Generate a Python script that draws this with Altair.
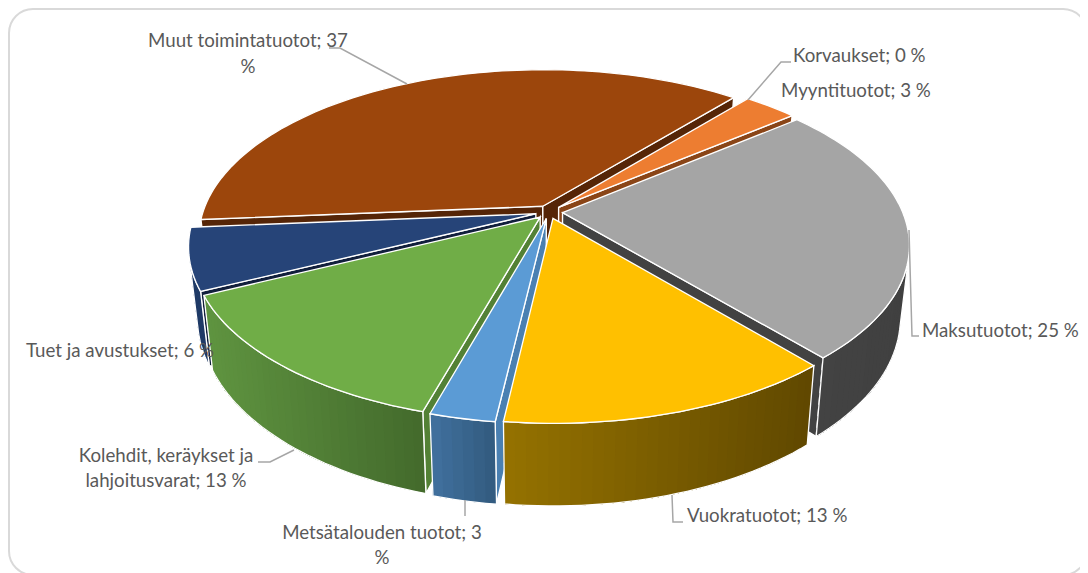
import math
import altair as alt
import pandas as pd

# ---- data ----
categories = ["Korvaukset", "Myyntituotot", "Maksutuotot", "Vuokratuotot",
              "Metsätalouden tuotot", "Kolehdit, keräykset ja lahjoitusvarat",
              "Tuet ja avustukset", "Muut toimintatuotot"]
shares = [0, 3, 24.6, 13.2, 2.55, 13.4, 5.85, 37.4]

# ---- styles ----
top_colors = ["#4472c4", "#ed7d31", "#a5a5a5", "#ffc000", "#5b9bd5", "#70ad47", "#264478", "#9c460c"]
wall_left = ["#2f5597", "#8f4a1d", "#444444", "#957200", "#41719f", "#5f9440", "#1f3a66", "#5e2a08"]
wall_right = ["#2f5597", "#8f4a1d", "#404040", "#604800", "#325a7e", "#436a2c", "#1f3a66", "#5e2a08"]
cut_colors = ["#2f5597", "#8a4517", "#424242", "#7f6000", "#4a80b2", "#538135", "#111f3c", "#552507"]
draw_order = [7, 1, 6, 2, 5, 4, 3]  # back to front

W, H = 1072, 565
CX, CY, A, B, K, DEPTH, EXPLODE = 549, 212, 340, 164, 0.187, 70, 0.04
START = 310
BOT_X, BOT_Y = 0.975, 0.98


def project(X, Y, bottom=False):
    s = 1 / (1 - K * Y)
    if bottom:
        return [CX + A * BOT_X * X * s, CY + B * BOT_Y * Y * s + DEPTH * s]
    return [CX + A * X * s, CY + B * Y * s]


def area(p):
    return sum(p[i][0] * p[(i + 1) % len(p)][1] - p[(i + 1) % len(p)][0] * p[i][1] for i in range(len(p)))


def feature(points, fill, stroke, width):
    ring = [list(q) for q in points] + [list(points[0])]
    return {"type": "Feature", "geometry": {"type": "Polygon", "coordinates": [ring]},
            "properties": {"fill": fill, "stroke": stroke, "sw": width}}


def mix(c1, c2, f):
    a = [int(c1[i:i + 2], 16) for i in (1, 3, 5)]
    b = [int(c2[i:i + 2], 16) for i in (1, 3, 5)]
    return "#%02x%02x%02x" % tuple(round(u + (v - u) * f) for u, v in zip(a, b))


bounds = []
acc = START
for v in shares:
    bounds.append((acc, acc + v * 3.6))
    acc += v * 3.6

features = []
for idx in draw_order:
    t0, t1 = bounds[idx]
    bis = math.radians((t0 + t1) / 2)
    ox, oy = EXPLODE * math.cos(bis), EXPLODE * math.sin(bis)
    n = max(2, int((t1 - t0) / 1.5))
    rim = []
    for i in range(n + 1):
        t = math.radians(t0 + (t1 - t0) * i / n)
        rim.append((ox + math.cos(t), oy + math.sin(t)))
    top = [project(X, Y) for X, Y in rim]
    bot = [project(X, Y, True) for X, Y in rim]
    apex, apexb = project(ox, oy), project(ox, oy, True)
    white = "#ffffff"
    # straight cut faces
    for q in ([apex, top[0], bot[0], apexb], [top[-1], apex, apexb, bot[-1]]):
        if area(q) < 0:
            features.append(feature(q, cut_colors[idx], white, 1.4))
    # curved outer face: each strip runs to the far end so later strips overlap it, no seams
    xs = [p[0] for p in top]
    x0, x1 = min(xs), max(xs)
    visible = [i for i in range(n) if area([top[i], top[i + 1], bot[i + 1], bot[i]]) < 0]
    if visible:
        a0, a1 = visible[0], visible[-1] + 1
        for i in visible:
            q = top[i:a1 + 1] + bot[i:a1 + 1][::-1]
            f = ((top[i][0] + top[i + 1][0]) / 2 - x0) / max(1, x1 - x0)
            features.append(feature(q, mix(wall_left[idx], wall_right[idx], f), "transparent", 0))
        outline = top[a0:a1 + 1] + bot[a0:a1 + 1][::-1]
        features.append(feature(outline, "transparent", white, 1.3))
    features.append(feature([apex] + top, top_colors[idx], white, 1.3))

# ---- annotations ----
labels = pd.DataFrame([
    ("Muut toimintatuotot; 37", 248, 41, "center"),
    ("%", 248, 67, "center"),
    ("Korvaukset; 0 %", 793, 56, "left"),
    ("Myyntituotot; 3 %", 781, 91, "left"),
    ("Maksutuotot; 25 %", 922, 331, "left"),
    ("Vuokratuotot; 13 %", 687, 516, "left"),
    ("Metsätalouden tuotot; 3", 382, 533, "center"),
    ("%", 382, 558, "center"),
    ("Kolehdit, keräykset ja", 166, 456, "center"),
    ("lahjoitusvarat; 13 %", 166, 481, "center"),
    ("Tuet ja avustukset; 6 %", 26, 351, "left"),
], columns=["text", "x", "y", "align"])

leaders = [
    [(329, 48), (340, 48), (407, 84)],
    [(748, 100), (781, 62), (791, 62)],
    [(909, 230), (912, 336), (919, 336)],
    [(672, 495), (673, 522), (683, 522)],
    [(465, 500), (465, 516)],
    [(258, 462), (270, 462), (294, 450)],
]
leader_rows = pd.DataFrame([
    {"id": i, "o": j, "x": p[0], "y": p[1]} for i, line in enumerate(leaders) for j, p in enumerate(line)
])

xs = alt.Scale(domain=[8, 8 + W], nice=False, zero=False)
ys = alt.Scale(domain=[8 + H, 8], nice=False, zero=False)

frame = alt.Chart(pd.DataFrame({"a": [0]})).mark_rect(
    fill="#ffffff", stroke="#d9d9d9", strokeWidth=2, cornerRadius=24
).encode(x=alt.value(1), x2=alt.value(W + 7), y=alt.value(1), y2=alt.value(H + 2))

pie = alt.Chart(alt.Data(values=features)).mark_geoshape().encode(
    fill=alt.Fill(field="properties.fill", type="nominal", scale=None, legend=None),
    stroke=alt.Stroke(field="properties.stroke", type="nominal", scale=None, legend=None),
    strokeWidth=alt.StrokeWidth(field="properties.sw", type="quantitative", scale=None, legend=None),
).project(type="identity", scale=1, translate=[-8, -8])

lines = alt.Chart(leader_rows).mark_line(color="#a6a6a6", strokeWidth=1.5).encode(
    x=alt.X("x:Q", scale=xs, axis=None),
    y=alt.Y("y:Q", scale=ys, axis=None),
    detail="id:N",
    order="o:Q",
)

text_layers = [
    alt.Chart(labels[labels["align"] == al]).mark_text(
        font="Lato", fontSize=18.7, color="#595959", align=al, baseline="middle"
    ).encode(
        x=alt.X("x:Q", scale=xs, axis=None),
        y=alt.Y("y:Q", scale=ys, axis=None),
        text="text:N",
    )
    for al in ("left", "center")
]

chart = alt.layer(frame, pie, lines, *text_layers).properties(
    width=W, height=H, padding=0, autosize=alt.AutoSizeParams(type="none"),
    background="#ffffff",
).configure_view(stroke=None)

chart.save("out.html", embed_options={"renderer": "svg", "actions": False})
